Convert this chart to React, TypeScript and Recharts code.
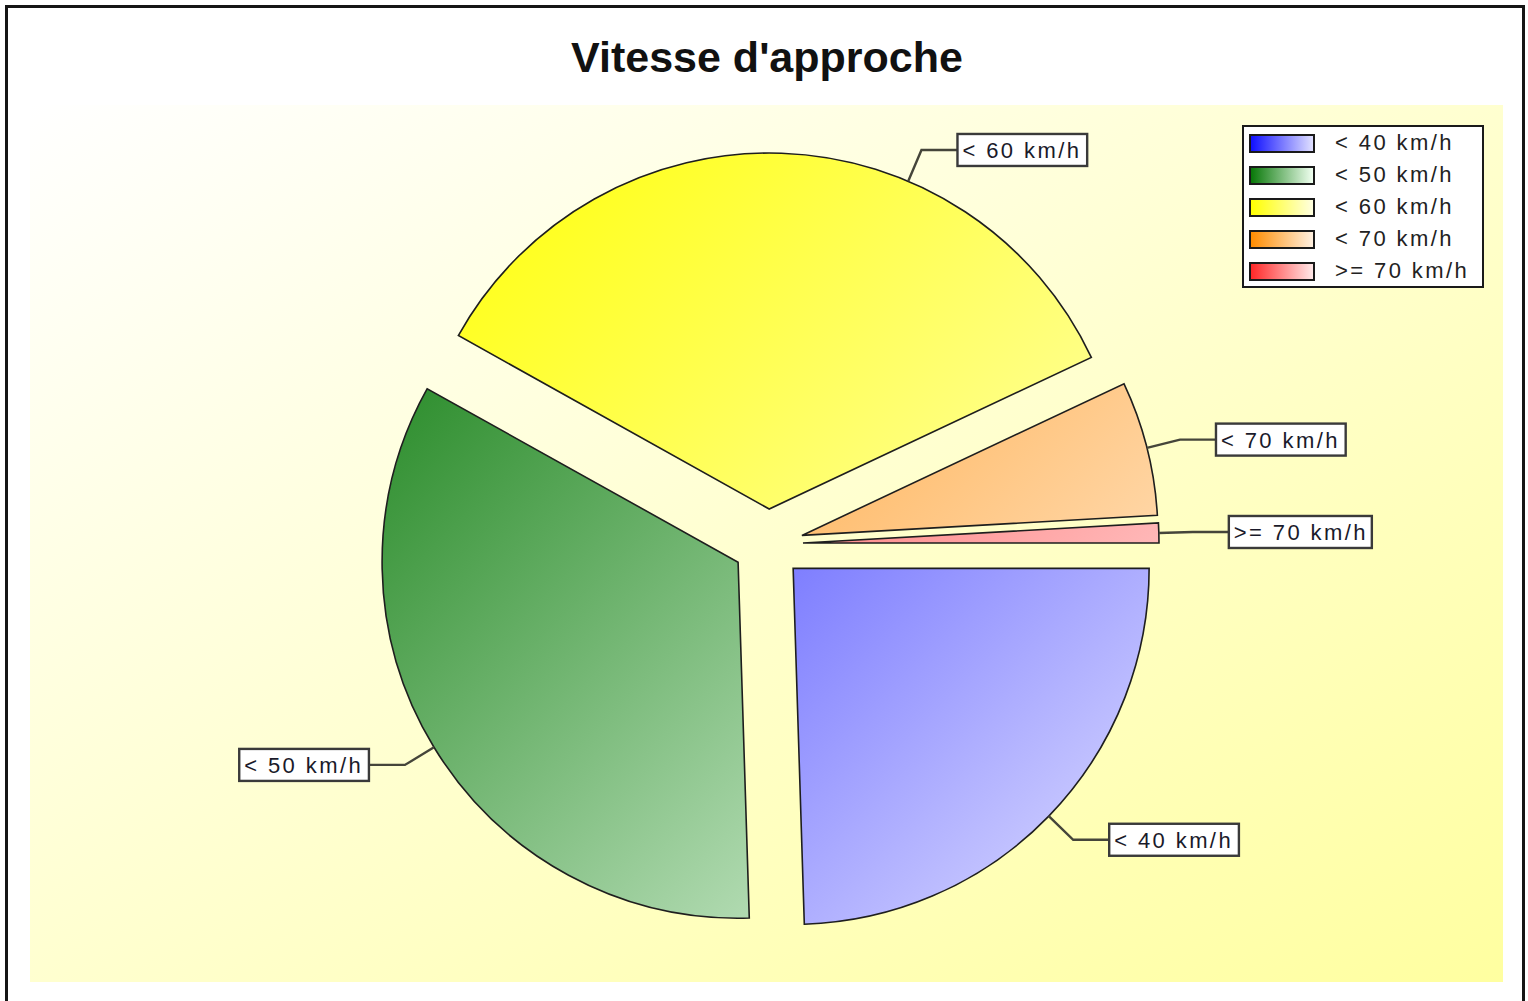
import React from "react";
import { PieChart, Pie, Legend, Sector } from "recharts";

// slices in drawing order, clockwise from 3 o'clock
const categories = ["< 40 km/h", "< 50 km/h", "< 60 km/h", "< 70 km/h", ">= 70 km/h"];
const shares = [24.5, 33.6, 34.9, 6.1, 0.9];
const baseColors = ["#1010ff", "#087808", "#ffff00", "#ff8c00", "#ff2828"];
const lightColors = ["#e0e0ff", "#f0fff0", "#ffffe0", "#fff0e0", "#ffe8e8"];

const data = categories.map((name, i) => ({ name, value: shares[i] }));

const W = 1528;
const H = 1001;
const CX = 768;
const CY = 544;
const R = 356;
const EXPLODE = 35;
const LEADER_OUT = 34;
const LEADER_ACROSS = 36;
const RAD = Math.PI / 180;
const FONT = "'Liberation Sans', Arial, sans-serif";

// every slice is pulled out along its mid angle, and gets its own boxed label
const renderSlice = (props: any) => {
  const { cx, cy, outerRadius, startAngle, endAngle, midAngle, index } = props;
  const ox = cx + EXPLODE * Math.cos(-midAngle * RAD);
  const oy = cy + EXPLODE * Math.sin(-midAngle * RAD);

  // labels that would sit straight on top are nudged clockwise, away from the title
  let la = midAngle;
  if (Math.sin(-la * RAD) < -0.95) la -= 21;
  const c = Math.cos(-la * RAD);
  const s = Math.sin(-la * RAD);
  const ax = ox + outerRadius * c;
  const ay = oy + outerRadius * s;
  const bx = ox + (outerRadius + LEADER_OUT) * c;
  const by = oy + (outerRadius + LEADER_OUT) * s;
  const right = c >= 0;
  const ex = bx + (right ? LEADER_ACROSS : -LEADER_ACROSS);

  const label = categories[index];
  const bw = label.length * 13.3 + 10;
  const left = right ? ex : ex - bw;

  return (
    <g key={`slice-${index}`}>
      <Sector
        cx={ox}
        cy={oy}
        innerRadius={0}
        outerRadius={outerRadius}
        startAngle={startAngle}
        endAngle={endAngle}
        fill={`url(#slice-${index})`}
        stroke="#1e1e1e"
        strokeWidth={1.6}
      />
      <polyline
        points={`${ax},${ay} ${bx},${by} ${ex},${by}`}
        fill="none"
        stroke="#45453a"
        strokeWidth={2.4}
      />
      <rect x={left} y={by - 16} width={bw} height={32} fill="#fff" stroke="#3a3a3a" strokeWidth={2.4} />
      <text
        x={left + 5}
        y={by + 8}
        fontFamily={FONT}
        fontSize={22}
        letterSpacing={2.4}
        fill="#1a1a2a"
        stroke="none"
      >
        {label}
      </text>
    </g>
  );
};

const LegendBox = () => (
  <div
    style={{
      width: 242,
      height: 163,
      boxSizing: "border-box",
      border: "2px solid #1a1a1a",
      background: "#fff",
      paddingLeft: 5,
    }}
  >
    {categories.map((cat, i) => (
      <div key={cat} style={{ display: "flex", alignItems: "center", height: 32 }}>
        <span
          style={{
            display: "inline-block",
            width: 66,
            height: 19,
            boxSizing: "border-box",
            border: "2px solid #1a1a1a",
            background: `linear-gradient(to right, ${baseColors[i]}, ${lightColors[i]})`,
          }}
        />
        <span
          style={{
            marginLeft: 20,
            fontFamily: FONT,
            fontSize: 22,
            letterSpacing: 2.4,
            color: "#222",
            lineHeight: "32px",
          }}
        >
          {cat}
        </span>
      </div>
    ))}
  </div>
);

export default function App() {
  return (
    <div style={{ position: "absolute", left: 0, top: 0, width: W, height: H, background: "#fff", overflow: "hidden" }}>
      <svg width={W} height={H} style={{ position: "absolute", left: 0, top: 0 }}>
        <defs>
          <linearGradient id="plotBg" x1="0" y1="0" x2="1" y2="1">
            <stop offset="0" stopColor="#ffffff" />
            <stop offset="1" stopColor="#ffffa0" />
          </linearGradient>
          {baseColors.map((col, i) => (
            <linearGradient
              key={col}
              id={`slice-${i}`}
              gradientUnits="userSpaceOnUse"
              x1={CX - R - EXPLODE}
              y1={CY - R - EXPLODE}
              x2={CX + R + EXPLODE}
              y2={CY + R + EXPLODE}
            >
              <stop offset="0" stopColor={col} />
              <stop offset="1" stopColor={lightColors[i]} />
            </linearGradient>
          ))}
        </defs>
        <rect x={6.5} y={6.5} width={1517} height={1010} fill="#fff" stroke="#151515" strokeWidth={3} />
        <rect x={30} y={105} width={1473} height={877} fill="url(#plotBg)" />
        <text
          x={767}
          y={72}
          textAnchor="middle"
          fontFamily={FONT}
          fontWeight="bold"
          fontSize={43}
          fill="#111"
        >
          Vitesse d'approche
        </text>
      </svg>
      <div style={{ position: "absolute", left: 0, top: 0 }}>
        <PieChart width={W} height={H} margin={{ top: 0, right: 0, bottom: 0, left: 0 }}>
          <Pie
            data={data}
            dataKey="value"
            nameKey="name"
            cx={CX}
            cy={CY}
            outerRadius={R}
            startAngle={0}
            endAngle={-360}
            fill="transparent"
            stroke="none"
            labelLine={false}
            label={renderSlice}
            isAnimationActive={false}
          />
          <Legend
            layout="vertical"
            align="right"
            verticalAlign="top"
            content={<LegendBox />}
            wrapperStyle={{ left: 1242, top: 125, width: 242, right: "auto" }}
          />
        </PieChart>
      </div>
    </div>
  );
}
